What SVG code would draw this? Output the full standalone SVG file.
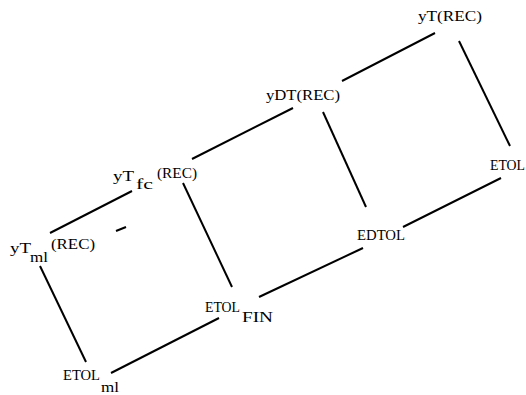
<svg xmlns="http://www.w3.org/2000/svg" width="526" height="395" viewBox="0 0 526 395">
<style>
.l{stroke:#000;stroke-width:2;fill:none;stroke-linecap:butt}
.t{font-family:'Liberation Serif',serif;font-size:14px;fill:#000}
</style>
<rect width="526" height="395" fill="#fff"/>
<g id="connectors">
<line class="l" x1="50" y1="233" x2="132" y2="191"/>
<line class="l" x1="192" y1="159" x2="293" y2="108"/>
<line class="l" x1="342" y1="81" x2="435" y2="33"/>
<line class="l" x1="40" y1="266" x2="86" y2="362"/>
<line class="l" x1="183" y1="183" x2="232" y2="287"/>
<line class="l" x1="323" y1="112" x2="366" y2="207"/>
<line class="l" x1="459" y1="41" x2="510" y2="146"/>
<line class="l" x1="111" y1="373" x2="219" y2="318"/>
<line class="l" x1="259" y1="297" x2="363" y2="248"/>
<line class="l" x1="403" y1="227" x2="501" y2="178"/>
<line class="l" x1="116" y1="231" x2="126" y2="227" stroke-width="2.5"/>
</g>
<g id="yTml" class="t">
<text x="10" y="253" textLength="21" lengthAdjust="spacingAndGlyphs">yT</text>
<text x="30" y="262" textLength="18" lengthAdjust="spacingAndGlyphs">ml</text>
<text x="51" y="249" textLength="44" lengthAdjust="spacingAndGlyphs">(REC)</text>
</g>
<g id="yTfc" class="t">
<text x="113" y="181" textLength="21" lengthAdjust="spacingAndGlyphs">yT</text>
<text x="136" y="189" textLength="17" lengthAdjust="spacingAndGlyphs">fc</text>
<text x="157" y="178" textLength="40" lengthAdjust="spacingAndGlyphs">(REC)</text>
</g>
<g id="yDT" class="t">
<text x="266" y="100" textLength="74" lengthAdjust="spacingAndGlyphs">yDT(REC)</text>
</g>
<g id="yT" class="t">
<text x="418" y="21" textLength="64" lengthAdjust="spacingAndGlyphs">yT(REC)</text>
</g>
<g id="ETOL" class="t">
<text x="490" y="170" textLength="35" lengthAdjust="spacingAndGlyphs">ETOL</text>
</g>
<g id="EDTOL" class="t">
<text x="357" y="240" textLength="48" lengthAdjust="spacingAndGlyphs">EDTOL</text>
</g>
<g id="ETOLFIN" class="t">
<text x="205" y="312" textLength="35" lengthAdjust="spacingAndGlyphs">ETOL</text>
<text x="242" y="322" textLength="31" lengthAdjust="spacingAndGlyphs">FIN</text>
</g>
<g id="ETOLml" class="t">
<text x="63" y="380" textLength="37" lengthAdjust="spacingAndGlyphs">ETOL</text>
<text x="101" y="392" textLength="18" lengthAdjust="spacingAndGlyphs">ml</text>
</g>
</svg>
